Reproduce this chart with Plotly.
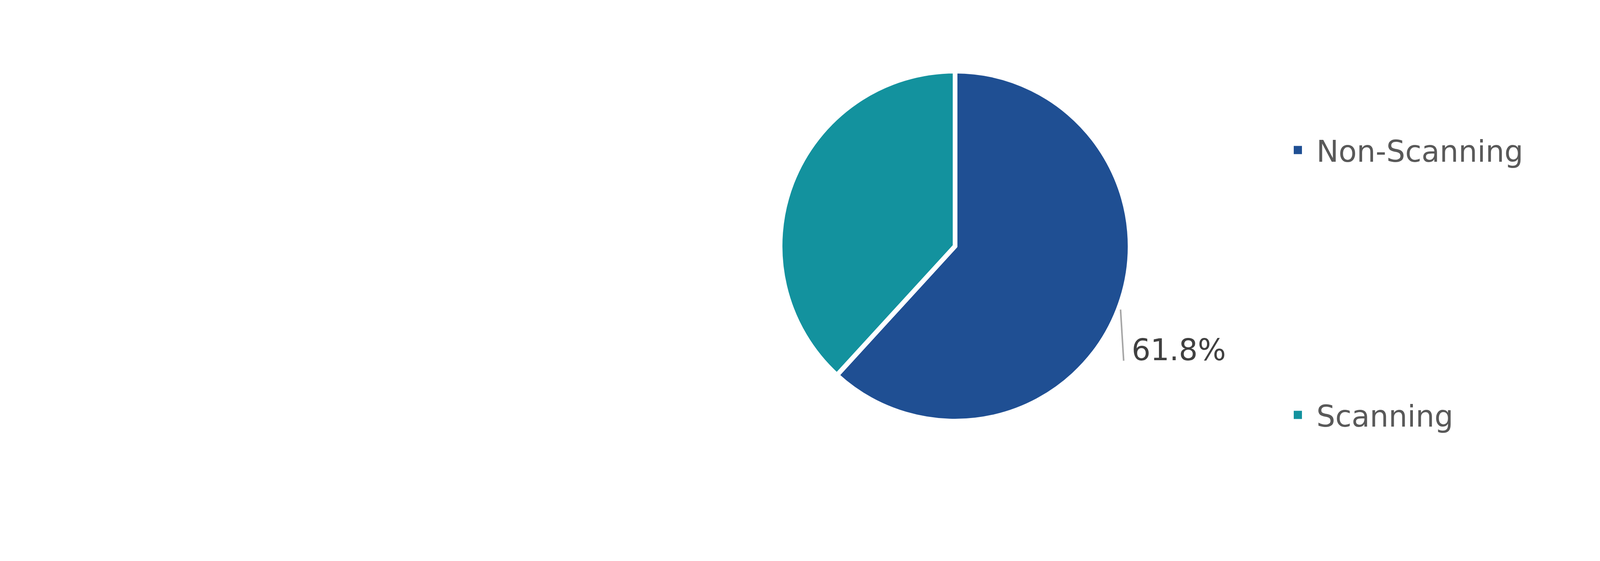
import math
import plotly.graph_objects as go

# данные
labels = ["Non-Scanning", "Scanning"]
values = [61.8, 38.2]
colors = ["#1F4F93", "#13929E"]

W, H = 4874, 1436
CX, CY, R = 2437, 622, 448  # центр и радиус круга, px


def px_x(x):
    return x / W


def px_y(y):
    return 1 - y / H


fig = go.Figure()

fig.add_trace(go.Pie(
    labels=labels,
    values=values,
    sort=False,
    direction="clockwise",
    rotation=0,
    textinfo="none",
    hoverinfo="label+percent",
    marker=dict(colors=colors, line=dict(color="white", width=12)),
    domain=dict(x=[px_x(CX - R), px_x(CX + R)], y=[px_y(CY + R), px_y(CY - R)]),
    showlegend=False,
))

# легенда: по одной записи в отдельной легенде, чтобы разнести их как в оригинале
legend_y = [376, 1054]
for i, (lab, col) in enumerate(zip(labels, colors)):
    fig.add_trace(go.Scatter(
        x=[None], y=[None],
        mode="markers",
        name=lab,
        marker=dict(symbol="square", size=16, color=col,
                    line=dict(color=col, width=5)),
        legend="legend" if i == 0 else "legend2",
        hoverinfo="skip",
    ))

legend_style = dict(
    x=px_x(3267), xanchor="left", yanchor="middle",
    itemwidth=85,
    font=dict(family="DejaVu Sans", size=76, color="#595959"),
    bgcolor="rgba(0,0,0,0)", itemclick=False, itemdoubleclick=False,
)

# подпись доли с выноской
total = sum(values)
mid = values[0] / total * 180.0
ang = math.radians(mid)
x0 = CX + R * math.sin(ang) + 6
y0 = CY - R * math.cos(ang)
x1, y1 = x0 + 8, y0 + 131

fig.add_shape(
    type="line", xref="paper", yref="paper",
    x0=px_x(x0), y0=px_y(y0), x1=px_x(x1), y1=px_y(y1),
    line=dict(color="#A6A6A6", width=4),
)
fig.add_annotation(
    xref="paper", yref="paper",
    x=px_x(x1 + 18), y=px_y(y1 - 28),
    xanchor="left", yanchor="middle",
    text=f"{values[0] / total * 100:.1f}%",
    showarrow=False,
    font=dict(family="DejaVu Sans", size=76, color="#404040"),
)

fig.update_layout(
    width=W,
    height=H,
    margin=dict(l=0, r=0, t=0, b=0),
    paper_bgcolor="white",
    plot_bgcolor="white",
    xaxis=dict(visible=False),
    yaxis=dict(visible=False),
    legend=dict(y=px_y(legend_y[0]), **legend_style),
    legend2=dict(y=px_y(legend_y[1]), **legend_style),
)

fig.write_html("out.html")
